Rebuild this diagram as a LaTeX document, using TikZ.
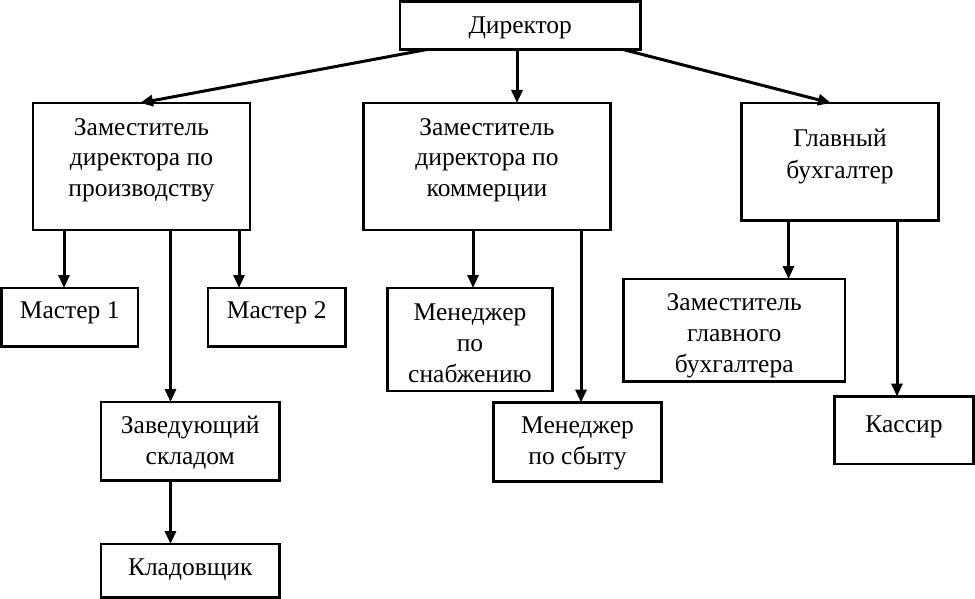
\documentclass[tikz,border=0pt]{standalone}
\usepackage{fontspec}
\setmainfont{Liberation Serif}
\usetikzlibrary{arrows.meta}
\tikzset{
  bx/.style={draw, line width=2.8pt, inner sep=0pt, outer sep=0pt},
  arr/.style={line width=3pt, -{Triangle[length=13pt,width=11pt]}},
}
% #1 width, #2 height, #3 first baseline offset, #4 text
\newcommand\bt[4]{\parbox[c][#2pt][t]{#1pt}{\centering\rule{0pt}{#3pt}#4}}
\begin{document}
\begin{tikzpicture}[x=1pt, y=-1pt, font=\fontsize{25.5}{31}\selectfont]
\useasboundingbox (0,0) rectangle (975,599);

\node[bx] (dir) at (520.25,25.5)   {\bt{240.5}{48}{32}{Директор}};
\node[bx] (zp)  at (141.5,166.5)   {\bt{217}{127}{32}{Заместитель\\директора по\\производству}};
\node[bx] (zk)  at (487,166.5)     {\bt{247}{127}{32}{Заместитель\\директора по\\коммерции}};
\node[bx] (gb)  at (840,161.75)    {\bt{197}{117.5}{44}{Главный\\бухгалтер}};
\node[bx] (m1)  at (69.75,317.25)  {\bt{136.5}{58.5}{30}{Мастер 1}};
\node[bx] (m2)  at (276.75,317.25) {\bt{137.5}{58.5}{30}{Мастер 2}};
\node[bx] (zav) at (190.25,441.25) {\bt{178.5}{78.5}{31}{Заведующий\\складом}};
\node[bx] (kl)  at (190.25,570.75) {\bt{178.5}{53.5}{31}{Кладовщик}};
\node[bx] (ms)  at (470,339.5)     {\bt{165}{103}{32}{Менеджер\\по\\снабжению}};
\node[bx] (mb)  at (577.5,442)     {\bt{168}{79}{30.5}{Менеджер\\по сбыту}};
\node[bx] (zgb) at (734.25,330.25) {\bt{221.5}{102.5}{31}{Заместитель\\главного\\бухгалтера}};
\node[bx] (ks)  at (904,430.25)    {\bt{139}{67.5}{35.5}{Кассир}};

\draw[arr] ([xshift=-93.25pt]dir.south) -- ([xshift=-1.5pt]zp.north);
\draw[arr] ([xshift=-3.25pt]dir.south) -- ([xshift=30pt]zk.north);
\draw[arr] ([xshift=102.75pt]dir.south) -- ([xshift=-9pt]gb.north);
\draw[arr] ([xshift=-77.5pt]zp.south) -- ([xshift=-5.75pt]m1.north);
\draw[arr] ([xshift=29pt]zp.south) -- ([xshift=-19.75pt]zav.north);
\draw[arr] ([xshift=97.5pt]zp.south) -- ([xshift=-37.75pt]m2.north);
\draw[arr] ([xshift=-19.75pt]zav.south) -- ([xshift=-19.75pt]kl.north);
\draw[arr] ([xshift=-14pt]zk.south) -- ([xshift=3pt]ms.north);
\draw[arr] ([xshift=94pt]zk.south) -- ([xshift=3.5pt]mb.north);
\draw[arr] ([xshift=-51.5pt]gb.south) -- ([xshift=54.25pt]zgb.north);
\draw[arr] ([xshift=57pt]gb.south) -- ([xshift=-7pt]ks.north);
\end{tikzpicture}
\end{document}
